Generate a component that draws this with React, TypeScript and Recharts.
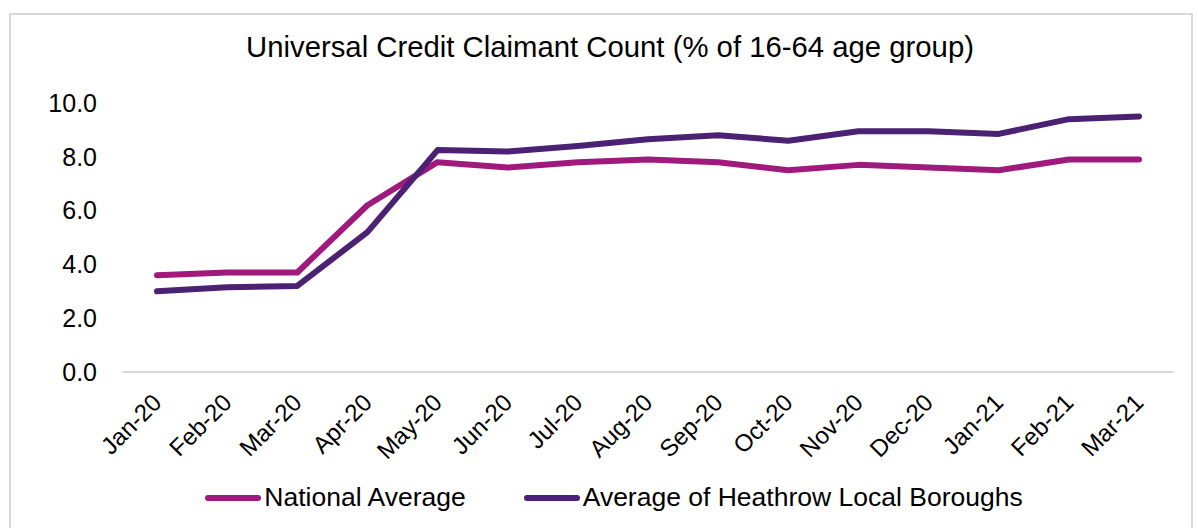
import React from "react";
import { LineChart, XAxis, YAxis, Line, Legend } from "recharts";

const months = [
  "Jan-20", "Feb-20", "Mar-20", "Apr-20", "May-20", "Jun-20", "Jul-20", "Aug-20",
  "Sep-20", "Oct-20", "Nov-20", "Dec-20", "Jan-21", "Feb-21", "Mar-21",
];
const nationalAverage = [3.6, 3.7, 3.7, 6.2, 7.8, 7.6, 7.8, 7.9, 7.8, 7.5, 7.7, 7.6, 7.5, 7.9, 7.9];
const heathrowBoroughs = [3.0, 3.15, 3.2, 5.2, 8.25, 8.2, 8.4, 8.65, 8.8, 8.6, 8.95, 8.95, 8.85, 9.4, 9.5];
const yTicks = [0, 2, 4, 6, 8, 10];
const seriesOrder = ["National Average", "Average of Heathrow Local Boroughs"];

const NATIONAL = "#A0197C";
const HEATHROW = "#4A2173";
const FONT = "Arial, 'Liberation Sans', sans-serif";

const data = months.map((m, i) => ({
  month: m,
  national: nationalAverage[i],
  heathrow: heathrowBoroughs[i],
}));

const XTick = (props: any) => {
  const { x, y, payload } = props;
  const ax = x + 6;
  const ay = y + 24;
  return (
    <text
      x={ax}
      y={ay}
      textAnchor="end"
      fill="#000"
      fontSize={24}
      fontFamily={FONT}
      transform={`rotate(-45, ${ax}, ${ay})`}
    >
      {payload.value}
    </text>
  );
};

const LegendContent = (props: any) => {
  const items = [...(props.payload || [])].sort(
    (a: any, b: any) => seriesOrder.indexOf(a.value) - seriesOrder.indexOf(b.value)
  );
  return (
    <div style={{ display: "flex", justifyContent: "center", gap: 58, fontFamily: FONT, fontSize: 26.5, color: "#000", paddingLeft: 30 }}>
      {items.map((p: any) => (
        <div key={p.value} style={{ display: "flex", alignItems: "center" }}>
          <span style={{ display: "inline-block", width: 56, height: 6, borderRadius: 3, background: p.color, marginRight: 3 }} />
          <span>{p.value}</span>
        </div>
      ))}
    </div>
  );
};

export default function App() {
  return (
    <div style={{ position: "absolute", left: 0, top: 0, width: 1198, height: 528, background: "#fff", overflow: "hidden" }}>
      <div style={{ position: "absolute", left: 9, top: 13, width: 1180, height: 530, border: "2px solid #d9d9d9" }} />
      <div
        style={{
          position: "absolute",
          top: 30,
          left: 0,
          width: 1220,
          textAlign: "center",
          fontFamily: FONT,
          fontSize: 29.3,
          color: "#000",
        }}
      >
        Universal Credit Claimant Count (% of 16-64 age group)
      </div>
      <LineChart width={1198} height={528} data={data} margin={{ top: 103, right: 24, left: 0, bottom: 0 }}>
        <XAxis
          dataKey="month"
          height={156}
          interval={0}
          padding={{ left: 35, right: 35 }}
          tickLine={false}
          axisLine={{ stroke: "#d9d9d9", strokeWidth: 2 }}
          tick={<XTick />}
        />
        <YAxis
          width={122}
          domain={[0, 10]}
          ticks={yTicks}
          axisLine={false}
          tickLine={false}
          tickSize={0}
          tickMargin={25}
          tickFormatter={(v: number) => v.toFixed(1)}
          tick={{ fill: "#000", fontSize: 25, fontFamily: FONT }}
        />
        <Legend
          layout="horizontal"
          verticalAlign="middle"
          align="center"
          content={<LegendContent />}
          wrapperStyle={{ top: 482, left: 0, width: 1198 }}
        />
        <Line
          dataKey="national"
          name="National Average"
          stroke={NATIONAL}
          strokeWidth={6}
          strokeLinecap="round"
          strokeLinejoin="round"
          dot={false}
          isAnimationActive={false}
        />
        <Line
          dataKey="heathrow"
          name="Average of Heathrow Local Boroughs"
          stroke={HEATHROW}
          strokeWidth={6}
          strokeLinecap="round"
          strokeLinejoin="round"
          dot={false}
          isAnimationActive={false}
        />
      </LineChart>
    </div>
  );
}
